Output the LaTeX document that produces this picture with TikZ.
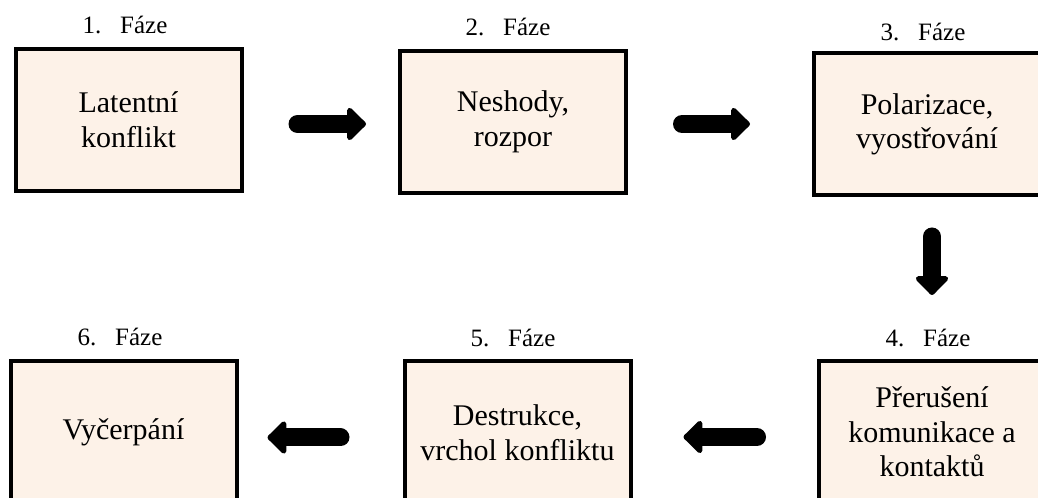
\documentclass[tikz,border=0pt]{standalone}
\usepackage{fontspec}
\setmainfont{Liberation Serif}
\usetikzlibrary{arrows.meta}
\definecolor{boxfill}{RGB}{253,242,232}
\begin{document}
\begin{tikzpicture}[x=0.75pt,y=-0.75pt,
  phase/.style={draw=black, line width=3pt, fill=boxfill, align=center,
    font=\fontsize{22.5}{26}\selectfont, inner sep=0pt,
    minimum width=169.5pt, minimum height=106.5pt},
  lab/.style={font=\fontsize{18.75}{22}\selectfont, inner sep=0pt},
  bigarrow/.style={line width=13.5pt, line cap=round,
    -{Triangle[width=28.5pt,length=15pt,round]}}]
\useasboundingbox (0,0) rectangle (1038,498);
\node[phase] (b1) at (128.5,120) {Latentní\\konflikt};
\node[phase] (b2) at (513,122) {Neshody,\\rozpor};
\node[phase] (b3) at (927,124.5) {Polarizace,\\vyostřování};
\node[phase] (b4) at (932,432) {Přerušení\\komunikace a\\kontaktů};
\node[phase] (b5) at (517.5,432.5) {Destrukce,\\vrchol konfliktu};
\node[phase] (b6) at (123.5,432.5) {Vyčerpání};
\node[lab] (l1) at (125,25) {1.\hskip0.75em Fáze};
\node[lab] (l2) at (508,27) {2.\hskip0.75em Fáze};
\node[lab] (l3) at (923,32) {3.\hskip0.75em Fáze};
\node[lab] (l4) at (928,338) {4.\hskip0.75em Fáze};
\node[lab] (l5) at (513,338) {5.\hskip0.75em Fáze};
\node[lab] (l6) at (120,337) {6.\hskip0.75em Fáze};
\draw[bigarrow, shorten <=40.5pt, shorten >=24pt] ([yshift=-3pt]b1.east) -- ([yshift=-3pt]b1.east -| b2.west);
\draw[bigarrow, shorten <=40.5pt, shorten >=46.5pt] ([yshift=-1.5pt]b2.east) -- ([yshift=-1.5pt]b2.east -| b3.west);
\draw[bigarrow, shorten <=29.25pt, shorten >=48pt] ([xshift=3.75pt]b3.south) -- ([xshift=3.75pt]b3.south |- b4.north);
\draw[bigarrow, shorten <=45pt, shorten >=38.25pt] ([yshift=-3.75pt]b4.west) -- ([yshift=-3.75pt]b4.west -| b5.east);
\draw[bigarrow, shorten <=46.5pt, shorten >=21.75pt] ([yshift=-3.75pt]b5.west) -- ([yshift=-3.75pt]b5.west -| b6.east);
\end{tikzpicture}
\end{document}
